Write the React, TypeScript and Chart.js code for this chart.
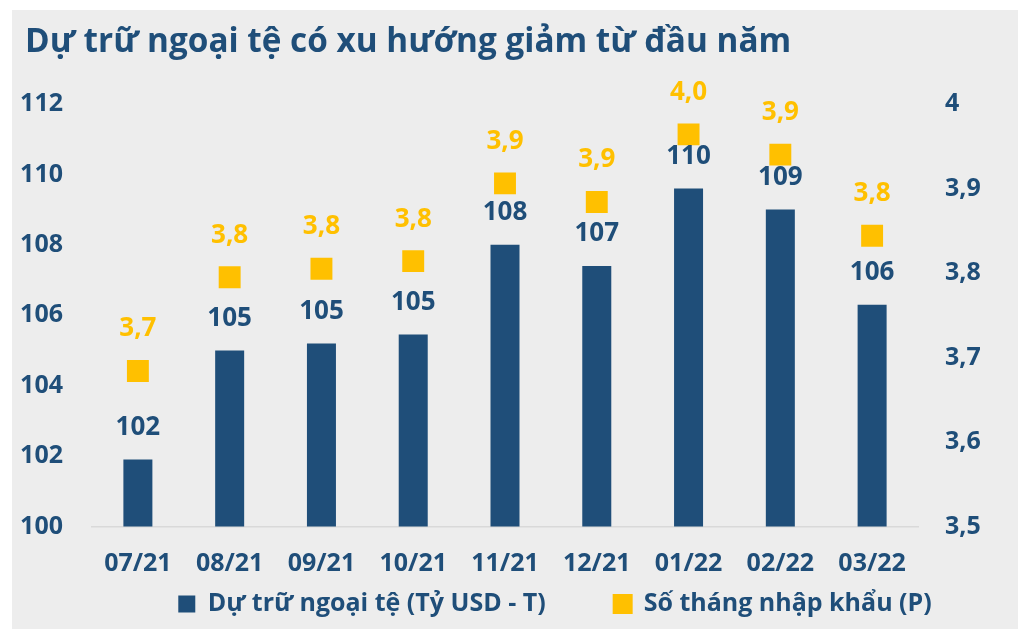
import React, { useEffect, useRef } from "react";
import { Chart, registerables } from "chart.js";

Chart.register(...registerables);

const TITLE = "Dự trữ ngoại tệ có xu hướng giảm từ đầu năm";
const categories = ["07/21", "08/21", "09/21", "10/21", "11/21", "12/21", "01/22", "02/22", "03/22"];
const reserves = [101.9, 105.0, 105.2, 105.45, 108.0, 107.4, 109.6, 109.0, 106.3];
const importMonths = [3.684, 3.795, 3.805, 3.814, 3.906, 3.884, 3.964, 3.94, 3.844];
const reservesLabel = "Dự trữ ngoại tệ (Tỷ USD - T)";
const monthsLabel = "Số tháng nhập khẩu (P)";

const BLUE = "#1F4E79";
const GOLD = "#FFC000";
const FONT = "'Open Sans', sans-serif";

const fmtTick = (v: number) => String(Math.round(v * 10) / 10).replace(".", ",");
const fmtOne = (v: number) => v.toFixed(1).replace(".", ",");

const valueLabels = {
  id: "valueLabels",
  afterDatasetsDraw(chart: any) {
    const ctx = chart.ctx;
    ctx.save();
    ctx.textAlign = "center";
    ctx.textBaseline = "middle";
    ctx.font = `bold 26px ${FONT}`;
    const m0 = chart.getDatasetMeta(0);
    m0.data.forEach((el: any, i: number) => {
      ctx.fillStyle = BLUE;
      ctx.fillText(String(Math.round(reserves[i])), el.x, el.y - 32);
    });
    const m1 = chart.getDatasetMeta(1);
    m1.data.forEach((el: any, i: number) => {
      ctx.fillStyle = GOLD;
      ctx.fillText(fmtOne(importMonths[i]), el.x, el.y - 42);
    });
    ctx.restore();
  },
};

// Nudge title and legend boxes to match the reference placement
const placeBoxes = {
  id: "placeBoxes",
  afterLayout(chart: any) {
    const t = chart.titleBlock;
    if (t) {
      t.left = 13;
    }
    const l = chart.legend;
    if (l) {
      l.left = 40;
      l.right = 40 + chart.width;
      l.top = 513;
      l.bottom = chart.height;
      l.height = l.bottom - l.top;
    }
  },
};

export default function App() {
  const ref = useRef<HTMLCanvasElement>(null);
  useEffect(() => {
    if (!ref.current) return;
    const chart = new Chart(ref.current, {
      type: "bar",
      data: {
        labels: categories,
        datasets: [
          {
            type: "bar",
            label: reservesLabel,
            data: reserves,
            backgroundColor: BLUE,
            borderWidth: 0,
            yAxisID: "y",
            barPercentage: 0.316,
            categoryPercentage: 1,
          } as any,
          {
            type: "line",
            label: monthsLabel,
            data: importMonths,
            showLine: false,
            pointStyle: "rect",
            pointRadius: 15.5,
            pointHoverRadius: 15.5,
            pointBorderWidth: 0,
            backgroundColor: GOLD,
            borderColor: GOLD,
            pointBackgroundColor: GOLD,
            yAxisID: "y1",
          } as any,
        ],
      },
      options: {
        animation: false,
        responsive: true,
        maintainAspectRatio: false,
        layout: { padding: { left: 0, right: 0, top: 0, bottom: 3 } },
        plugins: {
          tooltip: { enabled: false },
          title: {
            display: true,
            text: TITLE,
            align: "start",
            color: BLUE,
            font: { family: FONT, size: 33.3, weight: "bold", lineHeight: 1.2 },
            padding: { top: 13, bottom: 41 },
          },
          legend: {
            display: true,
            position: "bottom",
            maxHeight: 46,
            labels: {
              color: BLUE,
              font: { family: FONT, size: 25, weight: "bold" },
              boxWidth: 17,
              boxHeight: 17,
              padding: 68.5,
            },
          },
        },
        scales: {
          x: {
            grid: { display: false, drawTicks: false },
            border: { display: true, color: "#D9D9D9", width: 1.5 },
            ticks: {
              color: BLUE,
              font: { family: FONT, size: 25, weight: "bold" },
              padding: 22.5,
              maxRotation: 0,
              autoSkip: false,
            },
            afterFit: (s: any) => {
              s.height = 53.5;
            },
          },
          y: {
            position: "left",
            min: 100,
            max: 112,
            grid: { display: false, drawTicks: false },
            border: { display: false },
            ticks: {
              stepSize: 2,
              color: BLUE,
              font: { family: FONT, size: 25, weight: "bold" },
              padding: 29,
            },
            afterFit: (s: any) => {
              s.width = 80;
            },
          },
          y1: {
            position: "right",
            min: 3.5,
            max: 4,
            grid: { display: false, drawTicks: false },
            border: { display: false },
            ticks: {
              stepSize: 0.1,
              color: BLUE,
              font: { family: FONT, size: 25, weight: "bold" },
              padding: 27,
              callback: (v: any) => fmtTick(Number(v)),
            },
            afterFit: (s: any) => {
              s.width = 100;
            },
          },
        },
      } as any,
      plugins: [valueLabels, placeBoxes],
    });
    return () => chart.destroy();
  }, []);
  return (
    <div
      style={{
        position: "absolute",
        left: 12,
        top: 10,
        width: 1006,
        height: 619,
        background: "#EDEDED",
      }}
    >
      <canvas ref={ref} />
    </div>
  );
}
